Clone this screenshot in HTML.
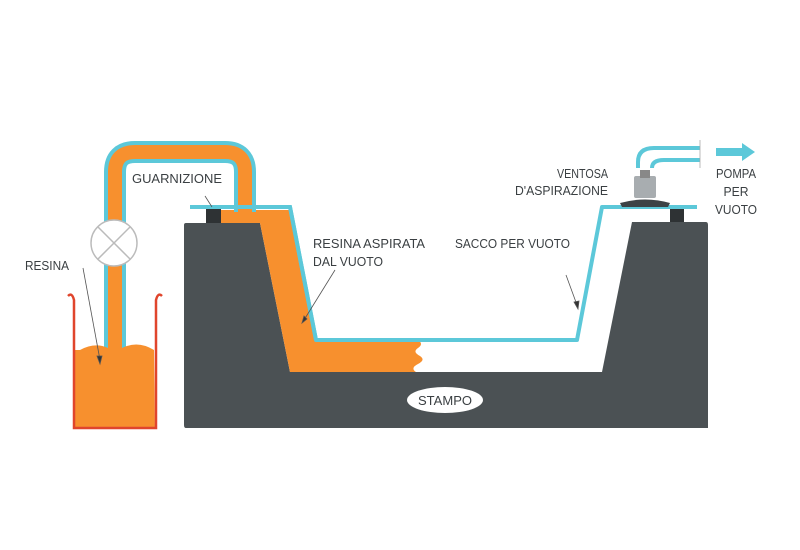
<!DOCTYPE html>
<html><head><meta charset="utf-8"><style>
html,body{margin:0;padding:0;background:#fff;width:800px;height:550px;overflow:hidden}
text{font-family:"Liberation Sans",sans-serif;font-size:13px;fill:#3a3f42}
</style></head><body>
<svg width="800" height="550" viewBox="0 0 800 550" xmlns="http://www.w3.org/2000/svg">
<!-- mold -->
<path d="M186,223 L260,223 L290,372 L602,372 L632,222 L706,222 Q708,222 708,225 L708,428 L186,428 Q184,428 184,425 L184,225 Q184,223 186,223 Z" fill="#4b5154"/>
<!-- orange resin in cavity -->
<path d="M221,210 L290,210 L316,340 L418,340 Q424,344 418,348 Q412,352 420,356 Q426,360 418,364 Q410,368 416,372 L290,372 L260,223 L221,223 Z" fill="#f7902e"/>
<!-- tube -->
<path d="M115,350 L115,172 Q115,152 135,152 L225,152 Q245,152 245,172 L245,212" fill="none" stroke="#5cc8d9" stroke-width="22"/>
<path d="M115,350 L115,172 Q115,152 135,152 L225,152 Q245,152 245,172 L245,214" fill="none" stroke="#f7902e" stroke-width="14"/>
<!-- bag -->
<path d="M190,207 L290,207 L316,340 L577,340 L602,207 L697,207" fill="none" stroke="#5cc8d9" stroke-width="4" stroke-linejoin="round"/>
<path d="M250,207 L290,207 L316,340" fill="none" stroke="#5cc8d9" stroke-width="4"/>
<!-- gaskets -->
<rect x="206" y="209" width="15" height="14" fill="#2e3234"/>
<rect x="670" y="209" width="14" height="13" fill="#2e3234"/>
<!-- valve -->
<circle cx="114" cy="243" r="23" fill="#fff" stroke="#bbb" stroke-width="1.5"/>
<path d="M98,227 L130,259 M130,227 L98,259" stroke="#bbb" stroke-width="1.5"/>
<!-- beaker -->
<path d="M80,350 Q95,342 108,348 L122,348 Q138,340 154,350 L155,428 L75,428 L75,350 Z" fill="#f7902e"/>
<path d="M68,296 Q72,292 74,300 L74,428 L156,428 L156,300 Q158,292 162,296" fill="none" stroke="#e0452c" stroke-width="2.5"/>
<!-- stampo -->
<ellipse cx="445" cy="400" rx="38" ry="13" fill="#fff"/>
<text x="445" y="405" text-anchor="middle" textLength="54" lengthAdjust="spacingAndGlyphs">STAMPO</text>
<!-- suction cup -->
<path d="M620,203 Q645,196 670,203 L668,207 L622,207 Z" fill="#3d4245"/>
<rect x="634" y="176" width="22" height="22" rx="2" fill="#a8adb0"/>
<rect x="640" y="170" width="10" height="8" fill="#888"/>
<!-- pipes to pump -->
<path d="M638,168 L638,162 Q638,148 654,148 L700,148" fill="none" stroke="#5cc8d9" stroke-width="4"/>
<path d="M652,168 Q652,160 664,160 L700,160" fill="none" stroke="#5cc8d9" stroke-width="4"/>
<path d="M700,140 L700,168" stroke="#aaa" stroke-width="0.8"/>
<path d="M716,148 L742,148 L742,143 L755,152 L742,161 L742,156 L716,156 Z" fill="#5cc8d9"/>
<!-- labels -->
<text x="25" y="270" textLength="44" lengthAdjust="spacingAndGlyphs">RESINA</text>
<text x="132" y="183" textLength="90" lengthAdjust="spacingAndGlyphs">GUARNIZIONE</text>
<text x="313" y="248" textLength="112" lengthAdjust="spacingAndGlyphs">RESINA ASPIRATA</text>
<text x="313" y="266" textLength="70" lengthAdjust="spacingAndGlyphs">DAL VUOTO</text>
<text x="455" y="248" textLength="115" lengthAdjust="spacingAndGlyphs">SACCO PER VUOTO</text>
<text x="608" y="178" text-anchor="end" textLength="51" lengthAdjust="spacingAndGlyphs">VENTOSA</text>
<text x="608" y="195" text-anchor="end" textLength="93" lengthAdjust="spacingAndGlyphs">D'ASPIRAZIONE</text>
<text x="736" y="178" text-anchor="middle" textLength="40" lengthAdjust="spacingAndGlyphs">POMPA</text>
<text x="736" y="196" text-anchor="middle" textLength="25" lengthAdjust="spacingAndGlyphs">PER</text>
<text x="736" y="214" text-anchor="middle" textLength="42" lengthAdjust="spacingAndGlyphs">VUOTO</text>
<!-- leader lines -->
<g stroke="#555" stroke-width="0.8" fill="#333">
<line x1="83" y1="268" x2="100" y2="360"/><path d="M100,364 L97,356 L102,356 Z"/>
<line x1="205" y1="196" x2="212" y2="207"/>
<line x1="335" y1="270" x2="304" y2="320"/><path d="M302,323 L304,316 L307,319 Z"/>
<line x1="566" y1="275" x2="577" y2="305"/><path d="M578,309 L574,302 L579,301 Z"/>
</g>
</svg>
</body></html>
